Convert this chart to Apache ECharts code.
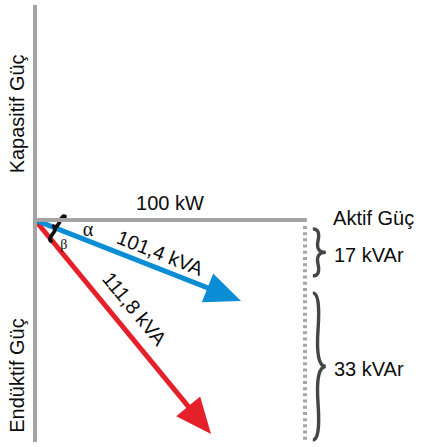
<!DOCTYPE html>
<html><head><meta charset="utf-8">
<script src="https://cdn.jsdelivr.net/npm/echarts@6/dist/echarts.min.js"></script>
<style>html,body{margin:0;padding:0;background:#fff}#c{width:421px;height:447px}</style>
</head><body><div id="c"></div>
<script>
// ---- diagram data (schematic units: x in kW, y in reactive units) ----
const activePower = 100;                       // kW, length of the active-power axis
const apparentLabels = ['101,4 kVA', '111,8 kVA'];
const apparentTips = [[76.3, -30.0], [65.2, -79.3]];
const reactiveLabels = ['17 kVAr', '33 kVAr'];
const reactiveSpans = [[-3.3, -20.7], [-27.0, -81.5]];
const axisNames = ['Kapasitif Güç', 'Endüktif Güç', 'Aktif Güç'];
const angleNames = ['α', 'β'];
const activeLabel = '100 kW';
const axisTop = 79.6, axisBottom = -82.2;

// ---- rendering ----
const FONT = '"Liberation Sans", Arial, sans-serif';
const SERIF = '"Liberation Serif", serif';
const TXT = '#0d0d0d';
const arrowColors = ['#0a8dd4', '#e4212a'];
const labelT = [0.58, 0.475], labelOff = [5.6, 7.6];
const drawOrder = [1, 0];

const chart = echarts.init(document.getElementById('c'), null, {renderer: 'svg'});

function renderArrow(params, api) {
  const i = drawOrder[params.dataIndex];
  const s = api.coord([0, 0]);
  const e = api.coord(apparentTips[i]);
  const dx = e[0] - s[0], dy = e[1] - s[1], L = Math.hypot(dx, dy);
  const ux = dx / L, uy = dy / L, nx = -uy, ny = ux;
  const hl = 36, hw = 15.5;
  const b = [e[0] - ux * hl, e[1] - uy * hl];
  const c = arrowColors[i];
  return {type: 'group', children: [
    {type: 'line', shape: {x1: s[0] + ux, y1: s[1] + uy, x2: b[0] + ux * 3, y2: b[1] + uy * 3},
     style: {stroke: c, lineWidth: 5}},
    {type: 'polygon', shape: {points: [e, [b[0] + nx * hw, b[1] + ny * hw], [b[0] - nx * hw, b[1] - ny * hw]]},
     style: {fill: c}}
  ]};
}

function bracePath(p1, p2, w) {
  const dx = p2[0] - p1[0], dy = p2[1] - p1[1], L = Math.hypot(dx, dy);
  const ux = dx / L, uy = dy / L, nx = uy, ny = -ux;
  const q = 0.6;
  const P = (a, k) => [p1[0] + ux * a * L + nx * k * w, p1[1] + uy * a * L + ny * k * w];
  const q1 = P(0, q), m1 = P(0.25, 1 - q), tip = P(0.5, 1);
  const q3 = [p2[0] + nx * q * w, p2[1] + ny * q * w], m2 = P(0.75, 1 - q);
  const c1 = [2 * m1[0] - q1[0], 2 * m1[1] - q1[1]];
  const c2 = [2 * m2[0] - q3[0], 2 * m2[1] - q3[1]];
  const f = a => a[0].toFixed(2) + ' ' + a[1].toFixed(2);
  return 'M' + f(p1) + ' Q' + f(q1) + ' ' + f(m1) + ' Q' + f(c1) + ' ' + f(tip) +
         ' M' + f(p2) + ' Q' + f(q3) + ' ' + f(m2) + ' Q' + f(c2) + ' ' + f(tip);
}

function renderBrace(params, api) {
  const span = reactiveSpans[params.dataIndex];
  const p1 = api.coord([activePower + 2.9, span[0]]);
  const p2 = api.coord([activePower + 2.9, span[1]]);
  return {type: 'path', shape: {pathData: bracePath(p1, p2, 13)},
          style: {stroke: '#454545', lineWidth: 3.4, fill: null}};
}

function renderAngleBrace(params, api) {
  const p1 = api.coord([11.1, 1.3]);
  const p2 = api.coord([5.9, -7.8]);
  return {type: 'path', shape: {pathData: bracePath(p1, p2, -5)},
          style: {stroke: '#111111', lineWidth: 3.8, fill: null, lineCap: 'round'}};
}

// text items built from the arrays above
function txt(pos, text, opts) {
  return {value: pos, label: Object.assign({show: true, position: 'inside', formatter: text,
    fontSize: 20, fontFamily: FONT, color: TXT, textBorderWidth: 0, opacity: 1,
    align: 'center', verticalAlign: 'middle'}, opts || {})};
}
const textItems = [
  txt([-6.7, 39.3], axisNames[0], {rotate: 90}),
  txt([-6.7, -57.6], axisNames[1], {rotate: 90}),
  txt([activePower + 10.4, 0.6], axisNames[2], {align: 'left'}),
  txt([activePower / 2, 6.2], activeLabel),
  txt([19.6, -3.4], angleNames[0], {fontFamily: SERIF, fontSize: 20}),
  txt([10.7, -8.9], angleNames[1], {fontFamily: SERIF, fontSize: 14})
];
apparentTips.forEach((tip, i) => {
  const L = Math.hypot(tip[0], tip[1]);
  const ux = tip[0] / L, uy = tip[1] / L;
  const px = -uy, py = ux; // perpendicular (towards upper-right)
  const pos = [tip[0] * labelT[i] + px * labelOff[i], tip[1] * labelT[i] + py * labelOff[i]];
  textItems.push(txt(pos, apparentLabels[i], {rotate: Math.atan2(tip[1], tip[0]) * 180 / Math.PI}));
});
reactiveSpans.forEach((span, i) => {
  textItems.push(txt([activePower + 10.7, (span[0] + span[1]) / 2 - 1.1], reactiveLabels[i], {align: 'left'}));
});

const option = {
  animation: false,
  backgroundColor: '#ffffff',
  grid: {left: 0, right: 0, top: 0, bottom: 0},
  xAxis: {type: 'value', min: -12.963, max: 142.963, show: false},
  yAxis: {type: 'value', min: -84.074, max: 81.481, show: false},
  series: [
    {type: 'line', data: [[0, axisTop], [0, axisBottom]], symbol: 'none', silent: true,
     lineStyle: {color: '#a4a4a4', width: 4}},
    {type: 'line', data: [[-0.7, 0], [activePower + 0.7, 0]], symbol: 'none', silent: true,
     lineStyle: {color: '#a4a4a4', width: 4}},
    {type: 'line', data: [[activePower, -2.2], [activePower, axisBottom]], symbol: 'none', silent: true,
     lineStyle: {color: '#a6a6a6', width: 4, type: [3, 3.2], cap: 'butt'}},
    {type: 'custom', data: [0, 0], renderItem: renderArrow, silent: true, clip: false},
    {type: 'custom', data: [0, 1], renderItem: renderBrace, silent: true, clip: false},
    {type: 'custom', data: [0], renderItem: renderAngleBrace, silent: true, clip: false},
    {type: 'scatter', data: textItems, symbol: 'circle', symbolSize: 1, silent: true, clip: false,
     itemStyle: {color: '#ffffff', opacity: 1}, labelLayout: {hideOverlap: false}}
  ]
};
chart.setOption(option);
</script></body></html>
